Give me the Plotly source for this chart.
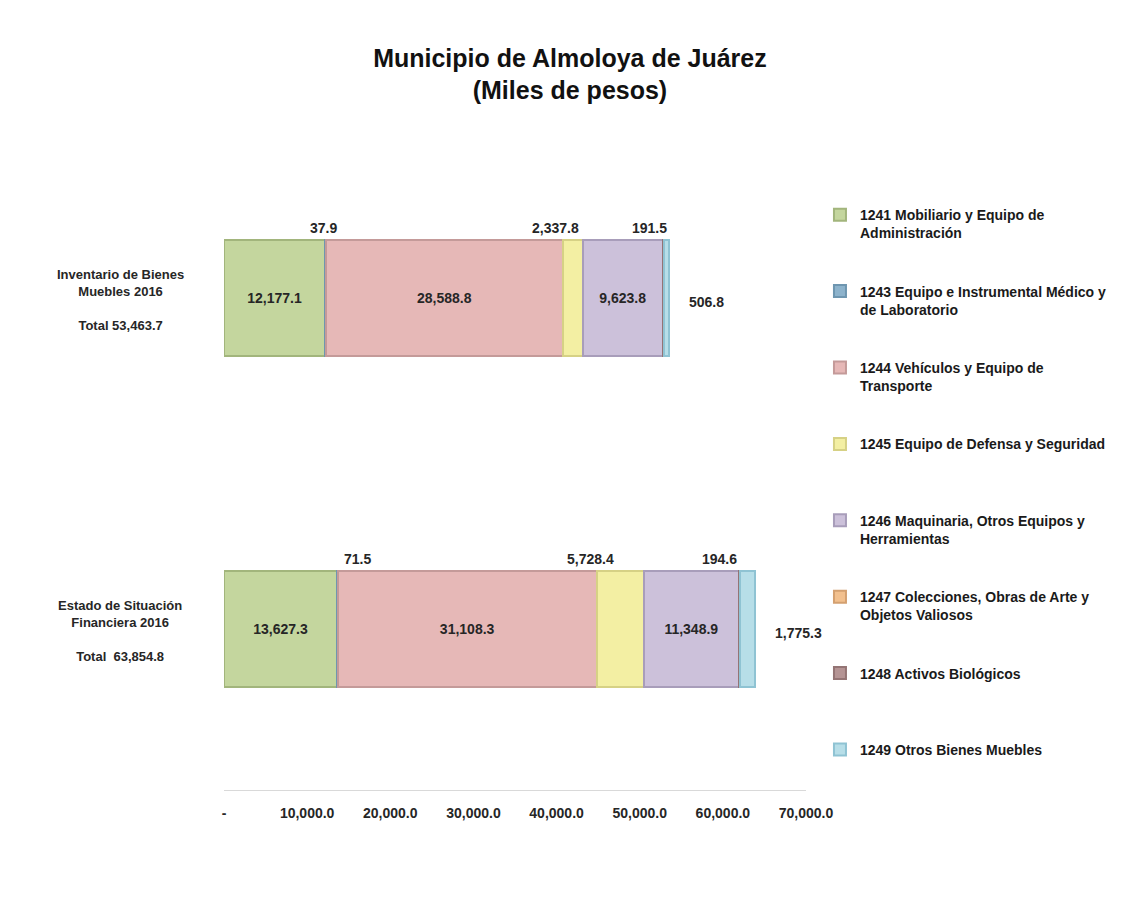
import plotly.graph_objects as go

categories = ["Inventario de Bienes<br>Muebles 2016", "Estado de Situación<br>Financiera 2016"]
totals_text = ["Total 53,463.7", "Total  63,854.8"]

series_names = [
    "1241 Mobiliario y Equipo de<br>Administración",
    "1243 Equipo e Instrumental Médico y<br>de Laboratorio",
    "1244 Vehículos y Equipo de<br>Transporte",
    "1245 Equipo de Defensa y Seguridad<br>\u00a0",
    "1246 Maquinaria, Otros Equipos y<br>Herramientas",
    "1247 Colecciones, Obras de Arte y<br>Objetos Valiosos",
    "1248 Activos Biológicos<br>\u00a0",
    "1249 Otros Bienes Muebles<br>\u00a0",
]

v1241 = [12177.1, 13627.3]
v1243 = [37.9, 71.5]
v1244 = [28588.8, 31108.3]
v1245 = [2337.8, 5728.4]
v1246 = [9623.8, 11348.9]
v1247 = [0.0, 0.0]
v1248 = [191.5, 194.6]
v1249 = [506.8, 1775.3]

tick_vals = [0, 10000, 20000, 30000, 40000, 50000, 60000, 70000]
tick_text = ["-", "10,000.0", "20,000.0", "30,000.0", "40,000.0", "50,000.0", "60,000.0", "70,000.0"]

values = [v1241, v1243, v1244, v1245, v1246, v1247, v1248, v1249]

fills = ["#C4D69E", "#8DB3CC", "#E6B8B7", "#F3EFA3", "#CCC1DA", "#F2C08E", "#B59494", "#B7DEE8"]
lines = ["#A2B57C", "#6E96B0", "#C49A99", "#D6D185", "#A89DBA", "#D4A070", "#947474", "#8FC3D3"]
# label style per series: inside / above / right / none
label_mode = ["inside", "above", "inside", "above", "inside", "none", "above", "right"]
# pixel nudges for "above" labels, per category
above_shift = {1: [-2, 20], 3: [-17, -30], 6: [-14, -20]}

FONT = "Liberation Sans, Arial, sans-serif"

fig = go.Figure()
for i, (name, vals) in enumerate(zip(series_names, values)):
    txt = [f"{v:,.1f}" for v in vals] if label_mode[i] == "inside" else ["", ""]
    fig.add_trace(go.Bar(
        y=categories, x=vals, name=name, orientation="h",
        marker=dict(color=fills[i], line=dict(color=lines[i], width=2)),
        width=0.35,
        text=txt, textposition="inside", insidetextanchor="middle", textangle=0,
        constraintext="none",
        textfont=dict(family=FONT, size=14, color="#262626", weight="bold"),
        legendgroup=f"g{i}",
        hoverinfo="x+name",
    ))

annotations = []
for i, vals in enumerate(values):
    for c, cat in enumerate(categories):
        cum_before = sum(values[k][c] for k in range(i))
        if label_mode[i] == "above":
            annotations.append(dict(
                x=cum_before + vals[c] / 2, y=cat, xref="x", yref="y",
                text=f"<b>{vals[c]:,.1f}</b>", showarrow=False,
                yanchor="bottom", yshift=60, xshift=above_shift[i][c],
                font=dict(family=FONT, size=14, color="#262626"),
            ))
        elif label_mode[i] == "right":
            total = sum(values[k][c] for k in range(len(values)))
            annotations.append(dict(
                x=total, y=cat, xref="x", yref="y",
                text=f"<b>{vals[c]:,.1f}</b>", showarrow=False,
                xanchor="left", xshift=18, yshift=-4,
                font=dict(family=FONT, size=14, color="#262626"),
            ))

for cat, tot in zip(categories, totals_text):
    annotations.append(dict(
        x=-0.178, y=cat, xref="paper", yref="y",
        text=f"<b>{cat}<br><br>{tot}</b>", showarrow=False, align="center",
        xanchor="center", yanchor="middle", yshift=-2,
        font=dict(family=FONT, size=13, color="#262626"),
    ))

fig.update_layout(
    width=1133, height=907,
    paper_bgcolor="white", plot_bgcolor="white",
    barmode="stack",
    margin=dict(l=216, r=335, t=124, b=125),
    title=dict(
        text="<b>Municipio de Almoloya de Juárez<br>(Miles de pesos)</b>",
        x=0.496, xref="container", xanchor="center",
        y=0.935, yref="container", yanchor="top",
        font=dict(family=FONT, size=25, color="#111111"),
    ),
    xaxis=dict(
        range=[0, 70000], tickvals=tick_vals, ticktext=tick_text,
        showgrid=False, zeroline=False, showline=True, linecolor="#D9D9D9", linewidth=1,
        ticks="", ticklabelstandoff=10,
        tickfont=dict(family="Liberation Sans Narrow, Liberation Sans, Arial, sans-serif", size=14, color="#262626", weight="bold"),
    ),
    yaxis=dict(
        categoryorder="array", categoryarray=categories,
        range=[1.486, -0.5015], showticklabels=False, showgrid=False, zeroline=False, showline=False, ticks="",
    ),
    legend=dict(
        x=1.024, xanchor="left", y=0.898, yanchor="top",
        traceorder="grouped", tracegroupgap=37, valign="top",
        font=dict(family=FONT, size=14, color="#1a1a1a", weight="bold"),
        itemwidth=30, bgcolor="rgba(0,0,0,0)",
    ),
    annotations=annotations,
    showlegend=True,
)

fig.write_html("out.html")
